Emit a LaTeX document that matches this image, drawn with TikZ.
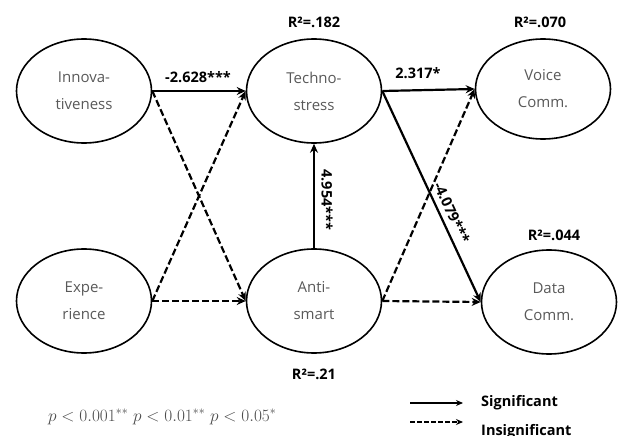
\documentclass[tikz,border=0pt]{standalone}
\usepackage{fontspec}
\setmainfont{Open Sans}
\usetikzlibrary{shapes.geometric,arrows.meta}
\begin{document}
\begin{tikzpicture}[x=1pt,y=-1pt,
  construct/.style={ellipse, draw, line width=1.6pt, minimum width=135pt,
    minimum height=104pt, inner sep=0pt, align=center, text=black!65,
    font=\fontsize{15}{27}\selectfont},
  sig/.style={line width=2.2pt, -{Stealth[length=9pt,width=8pt]}},
  insig/.style={sig, dash pattern=on 7pt off 3pt},
  coef/.style={font=\bfseries\fontsize{14.5}{16}\selectfont, inner sep=1pt},
  rsq/.style={font=\bfseries\fontsize{14.5}{16}\selectfont, inner sep=0pt},
  legarrow/.style={line width=1.3pt, -{Stealth[length=7pt,width=6pt]}}]
\useasboundingbox (0,0) rectangle (619,436);

% constructs
\node[construct] (inn)   at (84,91)   {Innova-\\tiveness};
\node[construct] (tech)  at (314,91)  {Techno-\\stress};
\node[construct, minimum height=100pt] (voice) at (543,89) {Voice\\Comm.};
\node[construct] (exp)   at (84,301)  {Expe-\\rience};
\node[construct] (anti)  at (314,301) {Anti-\\smart};
\node[construct] (data)  at (549,302) {Data\\Comm.};

% explained variance
\node[rsq] (r1) at (314,22)  {R²=.182};
\node[rsq] (r2) at (540,22)  {R²=.070};
\node[rsq] (r3) at (554,235) {R²=.044};
\node[rsq] (r4) at (314,374) {R²=.21};

% paths
\draw[sig]   (inn.east)  -- (tech.west);
\draw[insig] (inn.east)  -- (anti.west);
\draw[insig] (exp.east)  -- (tech.west);
\draw[insig] (exp.east)  -- (anti.west);
\draw[sig]   (anti.north) -- (tech.south);
\draw[sig]   (tech.east) -- (voice.west);
\draw[sig]   (tech.east) -- node[coef, sloped, above=4pt, pos=0.6] (c4) {-4.079***} (data.west);
\draw[insig] (anti.east) -- (voice.west);
\draw[insig] (anti.east) -- (data.west);

% coefficients
\node[coef] (c1) at (198,77) {-2.628***};
\node[coef] (c2) at (418,73) {2.317*};
\node[coef, rotate=-90] (c3) at (327,200) {4.954***};

% significance levels
\node[anchor=west, text=black!70, font=\fontsize{18}{20}\selectfont, inner sep=0pt] (note) at (48,417)
  {$p<0.001^{**}\;p<0.01^{**}\;p<0.05^{*}$};

% legend
\coordinate (l1a) at (410,403); \coordinate (l1b) at (463,403);
\coordinate (l2a) at (410,422); \coordinate (l2b) at (463,422);
\draw[legarrow] (l1a) -- (l1b);
\draw[legarrow, dash pattern=on 5pt off 2pt] (l2a) -- (l2b);
\node[anchor=west, coef] (s1) at (480,403) {Significant};
\node[anchor=west, coef] (s2) at (480,432) {Insignificant};
\end{tikzpicture}
\end{document}
